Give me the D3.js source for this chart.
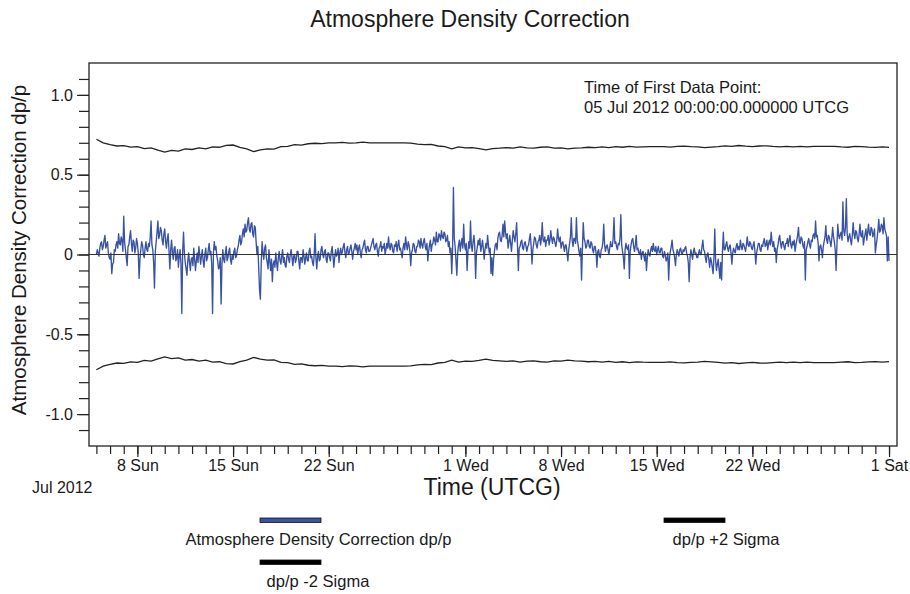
<!DOCTYPE html>
<html><head><meta charset="utf-8">
<script src="https://cdn.jsdelivr.net/npm/d3@7"></script>
<style>
body{margin:0;background:#fff}
svg{display:block}
text{font-family:"Liberation Sans",Arial,sans-serif;fill:#1a1a1a}
</style>
</head><body>
<svg id="chart" width="910" height="594"></svg>
<script>
// ---------- DATA ----------
const firstDataPoint = "2012-07-05T00:00:00Z";
const densityStepHours = 1.5;   // one value every 90 minutes (16 per day)
const densityCorrection = [
 0.00, 0.03, 0.01,-0.01, 0.04, 0.07, 0.08, 0.03, 0.05, 0.09, 0.12, 0.04, 0.06, 0.08, 0.01,-0.02,
-0.03, 0.01,-0.12,-0.06,-0.05, 0.03, 0.02, 0.06, 0.08, 0.04, 0.13, 0.07, 0.06, 0.11, 0.09, 0.02,
 0.24, 0.08, 0.03,-0.02,-0.07, 0.05, 0.06, 0.11, 0.15, 0.07, 0.02, 0.09, 0.08, 0.01, 0.04, 0.10,
 0.07, 0.01,-0.15,-0.03, 0.03, 0.08, 0.06, 0.00,-0.02, 0.04, 0.08, 0.03, 0.02, 0.07, 0.05, 0.11,
 0.21, 0.06, 0.03,-0.05,-0.21, 0.02, 0.08, 0.14, 0.21, 0.10, 0.12, 0.17, 0.15, 0.09, 0.06, 0.13,
 0.16, 0.08, 0.04, 0.10, 0.13, 0.02,-0.09, 0.03, 0.09, 0.01,-0.03, 0.04, 0.05,-0.04,-0.02, 0.03,
-0.08,-0.01, 0.03,-0.06,-0.37, 0.02, 0.14, 0.01,-0.05,-0.09,-0.13,-0.04, 0.01,-0.05,-0.10,-0.03,
-0.02,-0.07, 0.04,-0.03,-0.10,-0.04, 0.01,-0.05, 0.05, 0.00,-0.06,-0.01, 0.03,-0.04,-0.08, 0.00,
 0.04,-0.04,-0.02, 0.03, 0.07, 0.00, 0.02,-0.06,-0.37, 0.01, 0.08, 0.03, 0.05,-0.01,-0.04,-0.09,
-0.08,-0.02,-0.31,-0.06, 0.03,-0.03,-0.05, 0.01, 0.05,-0.04,-0.02, 0.02, 0.04,-0.03,-0.06, 0.00,
-0.03, 0.02, 0.04,-0.02,-0.01, 0.03, 0.05, 0.09, 0.12, 0.06, 0.08, 0.13, 0.16, 0.11, 0.19, 0.14,
 0.15, 0.20, 0.23, 0.16, 0.14, 0.19, 0.20, 0.13, 0.11, 0.18, 0.17, 0.08, 0.00, 0.05,-0.08,-0.22,
-0.28,-0.05, 0.08, 0.01,-0.03, 0.04, 0.06,-0.02,-0.05,-0.09, 0.03,-0.04,-0.10,-0.03,-0.17,-0.06,
-0.04,-0.08, 0.01,-0.05,-0.10,-0.02, 0.02,-0.04,-0.06,-0.01, 0.03,-0.05,-0.02,-0.07,-0.08,-0.01,
 0.01,-0.03,-0.05, 0.00, 0.03,-0.02,-0.07,-0.01, 0.00,-0.05,-0.03, 0.02, 0.02,-0.04,-0.09,-0.02,
-0.02,-0.05, 0.03,-0.01,-0.06,-0.02, 0.01,-0.04,-0.04, 0.02, 0.04,-0.02,-0.01,-0.05,-0.07, 0.00,
 0.13,-0.02,-0.09,-0.01, 0.02,-0.04,-0.03, 0.03, 0.05, 0.00,-0.02, 0.02, 0.03,-0.03,-0.05, 0.01,
 0.01,-0.02,-0.04, 0.02, 0.05,-0.01,-0.08,-0.02, 0.03,-0.01, 0.00, 0.04,-0.05, 0.01, 0.04, 0.00,
 0.02, 0.05, 0.07, 0.01,-0.02, 0.03, 0.05, 0.00, 0.01, 0.04, 0.06, 0.02,-0.03, 0.02, 0.04, 0.07,
 0.03, 0.06, 0.00, 0.04, 0.06, 0.01,-0.02, 0.03, 0.04, 0.07, 0.09, 0.03, 0.01, 0.05, 0.05, 0.02,
 0.02, 0.04, 0.06, 0.08, 0.10, 0.05, 0.03, 0.06, 0.07, 0.02,-0.01, 0.04, 0.05, 0.08, 0.02, 0.05,
 0.04, 0.07, 0.00, 0.03, 0.07, 0.04, 0.11, 0.05, 0.03, 0.07, 0.06, 0.02, 0.01, 0.06, 0.05, 0.08,
 0.02, 0.06, 0.09, 0.03, 0.04, 0.01,-0.02, 0.04, 0.07, 0.03, 0.11, 0.06, 0.03, 0.08, 0.06, 0.02,
-0.07, 0.01, 0.03, 0.07, 0.06, 0.02, 0.01, 0.05, 0.05, 0.09, 0.08, 0.04, 0.10, 0.06, 0.04, 0.08,
 0.10, 0.05, 0.03, 0.07,-0.04, 0.02, 0.06, 0.09, 0.02, 0.06, 0.07, 0.11, 0.09, 0.06, 0.14, 0.08,
 0.08, 0.13, 0.12, 0.09, 0.15, 0.11, 0.10, 0.14, 0.13, 0.08, 0.09, 0.12, 0.05, 0.08, 0.01, 0.04,
-0.12, 0.03, 0.42, 0.10, 0.05,-0.04,-0.13, 0.01, 0.06, 0.09, 0.02, 0.07, 0.10, 0.04, 0.19, 0.06,
 0.03, 0.07,-0.10, 0.02, 0.08, 0.04, 0.21, 0.06, 0.02, 0.08, 0.12, 0.05,-0.15, 0.01, 0.05, 0.09,
 0.06, 0.10, 0.02, 0.05, 0.09, 0.04,-0.03, 0.03, 0.07, 0.04, 0.12, 0.06, 0.01, 0.04,-0.12,-0.02,
-0.13,-0.03, 0.02, 0.06, 0.07, 0.03, 0.10, 0.13, 0.14, 0.09, 0.08, 0.12, 0.19, 0.11, 0.21, 0.14,
 0.10, 0.13, 0.04, 0.08, 0.12, 0.07, 0.02, 0.09, 0.15, 0.11, 0.08, 0.13, 0.20, 0.06,-0.10, 0.04,
 0.05, 0.08, 0.09, 0.04, 0.03, 0.07, 0.08, 0.05, 0.02, 0.05, 0.06, 0.10, 0.13, 0.05,-0.06, 0.03,
 0.07, 0.11, 0.10, 0.06, 0.04, 0.08, 0.09, 0.12, 0.06, 0.10, 0.20, 0.09, 0.08, 0.11, 0.05, 0.09,
 0.09, 0.12, 0.06, 0.09, 0.15, 0.10, 0.07, 0.11, 0.10, 0.07, 0.05, 0.09, 0.16, 0.10, 0.08, 0.11,
 0.04, 0.07, 0.08, 0.05, 0.02, 0.06, 0.06, 0.01,-0.04, 0.03, 0.07, 0.11, 0.23, 0.09, 0.05, 0.10,
 0.10, 0.07, 0.23, 0.09, 0.06, 0.02,-0.01, 0.04,-0.16, 0.03, 0.20, 0.10, 0.08, 0.04, 0.05, 0.09,
 0.09, 0.05, 0.04, 0.08, 0.07, 0.03, 0.01, 0.05, 0.05, 0.01,-0.08, 0.02, 0.03,-0.01,-0.02, 0.03,
 0.04, 0.08, 0.19, 0.06, 0.02, 0.05, 0.06, 0.03, 0.00, 0.04, 0.08, 0.05, 0.05, 0.10, 0.23, 0.07,
 0.08, 0.05, 0.03, 0.07, 0.06, 0.10, 0.25, 0.06, 0.02,-0.02,-0.09, 0.03, 0.07, 0.04, 0.03, 0.06,
-0.15, 0.02, 0.06, 0.09, 0.10, 0.05, 0.02, 0.06, 0.12, 0.03, 0.04, 0.01, 0.00, 0.03,-0.03, 0.01,
 0.02,-0.01,-0.04, 0.01,-0.10,-0.02, 0.03, 0.00,-0.01, 0.03, 0.05, 0.02, 0.07, 0.03, 0.02, 0.05,
 0.00, 0.03, 0.05, 0.01, 0.01, 0.04, 0.04,-0.01,-0.02, 0.02, 0.00,-0.04,-0.03, 0.01,-0.16,-0.02,
 0.02, 0.05, 0.09, 0.03, 0.01,-0.02,-0.07, 0.00, 0.03, 0.01,-0.01, 0.03, 0.04, 0.01, 0.00, 0.03,
 0.02, 0.04, 0.05, 0.01,-0.01,-0.05,-0.17,-0.02, 0.03, 0.00,-0.03, 0.02, 0.04, 0.00, 0.01,-0.02,
-0.02, 0.01, 0.03, 0.00, 0.00, 0.05, 0.09, 0.03, 0.02,-0.02,-0.05, 0.00, 0.01,-0.03,-0.08,-0.02,
-0.04,-0.08,-0.12,-0.02, 0.16,-0.04,-0.10,-0.06,-0.03,-0.09,-0.15,-0.05,-0.16, 0.02, 0.14, 0.03,
 0.03, 0.06, 0.08, 0.04, 0.02, 0.05, 0.06, 0.01,-0.06, 0.01, 0.04, 0.02, 0.01, 0.05, 0.07, 0.03,
 0.05, 0.03, 0.09, 0.05, 0.03, 0.07, 0.06, 0.04, 0.02, 0.06, 0.11, 0.06, 0.05, 0.08, 0.07, 0.04,
 0.03, 0.06, 0.08, 0.02,-0.06, 0.01, 0.04, 0.07, 0.07, 0.03, 0.02, 0.06, 0.05, 0.08, 0.10, 0.05,
 0.06, 0.09, 0.03, 0.07, 0.09, 0.06, 0.14, 0.08, 0.05, 0.08, 0.02, 0.04,-0.05, 0.03, 0.06, 0.10,
 0.12, 0.07, 0.04, 0.08, 0.08, 0.05, 0.03, 0.07, 0.07, 0.10, 0.05, 0.09, 0.12, 0.06, 0.04, 0.08,
 0.06, 0.09, 0.02, 0.06, 0.09, 0.12, 0.17, 0.08, 0.07, 0.11, 0.10, 0.06, 0.04, 0.08,-0.16, 0.03,
 0.05, 0.08, 0.10, 0.06, 0.04, 0.09, 0.08, 0.12, 0.13, 0.10, 0.21, 0.11, 0.12, 0.07,-0.04, 0.05,
 0.06, 0.03,-0.02, 0.05, 0.08, 0.11, 0.18, 0.09, 0.07, 0.12, 0.11, 0.08, 0.05, 0.10, 0.17, 0.11,
 0.08, 0.03,-0.10, 0.06, 0.19, 0.12, 0.10, 0.13, 0.14, 0.09, 0.33, 0.15, 0.12, 0.17, 0.35, 0.13,
 0.08, 0.11, 0.13, 0.09, 0.06, 0.12, 0.20, 0.13, 0.10, 0.15, 0.14, 0.10, 0.08, 0.13, 0.19, 0.12,
 0.11, 0.15, 0.06, 0.10, 0.13, 0.16, 0.09, 0.14, 0.19, 0.13, 0.12, 0.17, 0.16, 0.11, 0.13, 0.16,
 0.01, 0.06, 0.10, 0.15, 0.22, 0.14, 0.15, 0.19, 0.18, 0.13, 0.23, 0.16, 0.14, 0.12,-0.04, 0.11,
-0.04
];
const sigmaStepHours = 12;    // one value every 12 hours
const plus2Sigma = [
0.722,0.700, 0.688,0.680, 0.682,0.673, 0.676,0.664, 0.668,0.654,
0.642,0.652, 0.648,0.662, 0.658,0.668, 0.662,0.674, 0.672,0.684,
0.686,0.672, 0.662,0.645, 0.655,0.662, 0.660,0.676, 0.678,0.688,
0.686,0.694, 0.697,0.695, 0.700,0.700, 0.703,0.698, 0.700,0.704,
0.700,0.700, 0.700,0.700, 0.700,0.700, 0.698,0.692, 0.688,0.690,
0.680,0.676, 0.662,0.674, 0.668,0.670, 0.664,0.656, 0.664,0.666,
0.670,0.666, 0.674,0.668, 0.666,0.672, 0.674,0.666, 0.668,0.662,
0.666,0.668, 0.672,0.670, 0.674,0.670, 0.676,0.672, 0.677,0.673,
0.675,0.676, 0.676,0.676, 0.673,0.678, 0.679,0.676, 0.675,0.670,
0.673,0.676, 0.681,0.678, 0.683,0.679, 0.676,0.680, 0.681,0.677,
0.675,0.678, 0.674,0.677, 0.674,0.678, 0.677,0.677, 0.678,0.674,
0.672,0.677, 0.676,0.673, 0.671,0.674, 0.671
];
const minus2Sigma = [
-0.722,-0.700, -0.688,-0.680, -0.682,-0.673, -0.676,-0.664, -0.668,-0.654,
-0.642,-0.652, -0.648,-0.662, -0.658,-0.668, -0.662,-0.674, -0.672,-0.684,
-0.686,-0.672, -0.662,-0.645, -0.655,-0.662, -0.660,-0.676, -0.678,-0.688,
-0.686,-0.694, -0.697,-0.695, -0.700,-0.700, -0.703,-0.698, -0.700,-0.704,
-0.700,-0.700, -0.700,-0.700, -0.700,-0.700, -0.698,-0.692, -0.688,-0.690,
-0.680,-0.676, -0.662,-0.674, -0.668,-0.670, -0.664,-0.656, -0.664,-0.666,
-0.670,-0.666, -0.674,-0.668, -0.666,-0.672, -0.674,-0.666, -0.668,-0.662,
-0.666,-0.668, -0.672,-0.670, -0.674,-0.670, -0.676,-0.672, -0.677,-0.673,
-0.675,-0.676, -0.676,-0.676, -0.673,-0.678, -0.679,-0.676, -0.675,-0.670,
-0.673,-0.676, -0.681,-0.678, -0.683,-0.679, -0.676,-0.680, -0.681,-0.677,
-0.675,-0.678, -0.674,-0.677, -0.674,-0.678, -0.677,-0.677, -0.678,-0.674,
-0.672,-0.677, -0.676,-0.673, -0.671,-0.674, -0.671
];
const xDomain = ["2012-07-04T11:00:00Z", "2012-09-01T14:00:00Z"];
const minorTickRange = ["2012-07-05T00:00:00Z", "2012-09-02T00:00:00Z"];
const majorTickDates = ["2012-07-08","2012-07-15","2012-07-22","2012-08-01","2012-08-08","2012-08-15","2012-08-22","2012-09-01"];
const majorTickLabels = ["8 Sun","15 Sun","22 Sun","1 Wed","8 Wed","15 Wed","22 Wed","1 Sat"];
const yDomain = [-1.2, 1.2];
const yMajorTicks = [-1.0, -0.5, 0, 0.5, 1.0];
const yMajorLabels = ["-1.0", "-0.5", "0", "0.5", "1.0"];
const yMinorTicks = [-1.1,-1.0,-0.9,-0.8,-0.7,-0.6,-0.5,-0.4,-0.3,-0.2,-0.1,0,0.1,0.2,0.3,0.4,0.5,0.6,0.7,0.8,0.9,1.0,1.1];
const seriesNames = ["Atmosphere Density Correction dp/p", "dp/p -2 Sigma", "dp/p +2 Sigma"];

// ---------- CHART ----------
const svg = d3.select("#chart");
const L = 89, R = 897, T = 63, B = 446;
const blue = "#3953a4";
const font = '"Liberation Sans",Arial,sans-serif';

const x = d3.scaleUtc().domain(xDomain.map(d => new Date(d))).range([L, R]);
const y = d3.scaleLinear().domain(yDomain).range([B, T]);
const t0 = new Date(firstDataPoint).getTime();
const tAt = (i, h) => new Date(t0 + i * h * 3600e3);
const line = (step) => d3.line().x((d, i) => x(tAt(i, step))).y(d => y(d));

// plot frame
svg.append("rect").attr("x", L).attr("y", T).attr("width", R - L).attr("height", B - T)
  .attr("fill", "none").attr("stroke", "#222").attr("stroke-width", 1.3);

// series
const g = svg.append("g");
g.append("path").datum(densityCorrection).attr("d", line(densityStepHours))
  .attr("fill", "none").attr("stroke", blue).attr("stroke-width", 1.35).attr("stroke-linejoin", "round");
g.append("path").datum(plus2Sigma).attr("d", line(sigmaStepHours))
  .attr("fill", "none").attr("stroke", "#222").attr("stroke-width", 1.3);
g.append("path").datum(minus2Sigma).attr("d", line(sigmaStepHours))
  .attr("fill", "none").attr("stroke", "#222").attr("stroke-width", 1.3);
// zero line
svg.append("line").attr("x1", L).attr("x2", R).attr("y1", y(0)).attr("y2", y(0))
  .attr("stroke", "#333").attr("stroke-width", 1.2);

// y axis
const yMinor = svg.append("g").attr("transform", `translate(${L},0)`)
  .call(d3.axisLeft(y).tickValues(yMinorTicks).tickSize(10).tickFormat(""));
const yMajor = svg.append("g").attr("transform", `translate(${L},0)`)
  .call(d3.axisLeft(y).tickValues(yMajorTicks).tickSize(12).tickPadding(4)
    .tickFormat((d, i) => yMajorLabels[i]));
[yMinor, yMajor].forEach(a => { a.select(".domain").remove(); a.selectAll("line").attr("stroke", "#222").attr("stroke-width", 1.2); });
yMajor.selectAll("text").attr("font-size", 16).attr("fill", "#1a1a1a").attr("font-family", font);

// x axis
const days = d3.utcDay.range(new Date(minorTickRange[0]), new Date(minorTickRange[1]));
const xMinor = svg.append("g").attr("transform", `translate(0,${B})`)
  .call(d3.axisBottom(x).tickValues(days).tickSize(8).tickFormat(""));
const xMajor = svg.append("g").attr("transform", `translate(0,${B})`)
  .call(d3.axisBottom(x).tickValues(majorTickDates.map(d => new Date(d + "T00:00:00Z")))
    .tickSize(11).tickPadding(3).tickFormat((d, i) => majorTickLabels[i]));
[xMinor, xMajor].forEach(a => { a.select(".domain").remove(); a.selectAll("line").attr("stroke", "#222").attr("stroke-width", 1.2); });
xMajor.selectAll("text").attr("font-size", 16).attr("fill", "#1a1a1a").attr("font-family", font);

// texts
svg.append("text").attr("x", 470).attr("y", 27).attr("text-anchor", "middle")
  .attr("font-size", 23).text("Atmosphere Density Correction");
svg.append("text").attr("x", 584).attr("y", 93).attr("font-size", 16.5).text("Time of First Data Point:");
svg.append("text").attr("x", 584).attr("y", 113).attr("font-size", 16.5).text("05 Jul 2012 00:00:00.000000 UTCG");
svg.append("text").attr("x", 32).attr("y", 493).attr("font-size", 16).text("Jul 2012");
svg.append("text").attr("x", 492).attr("y", 495).attr("text-anchor", "middle")
  .attr("font-size", 23).text("Time (UTCG)");
svg.append("text").attr("transform", "translate(26,250) rotate(-90)").attr("text-anchor", "middle")
  .attr("font-size", 20.5).text("Atmosphere Density Correction dp/p");

// legend
const legend = [
  {sx: 260, sy: 518, color: blue, tx: 185.5, ty: 545, name: seriesNames[0]},
  {sx: 260, sy: 560, color: "#000", tx: 262, ty: 587, name: " " + seriesNames[1]},
  {sx: 664, sy: 518, color: "#000", tx: 668, ty: 545, name: " " + seriesNames[2]}
];
legend.forEach(l => {
  svg.append("rect").attr("x", l.sx).attr("y", l.sy).attr("width", 61).attr("height", 4.5)
    .attr("fill", l.color).attr("stroke", "#111").attr("stroke-width", 0.8);
  svg.append("text").attr("x", l.tx).attr("y", l.ty).attr("font-size", 16.5)
    .attr("xml:space", "preserve").style("white-space", "pre").text(l.name);
});
</script>
</body></html>
